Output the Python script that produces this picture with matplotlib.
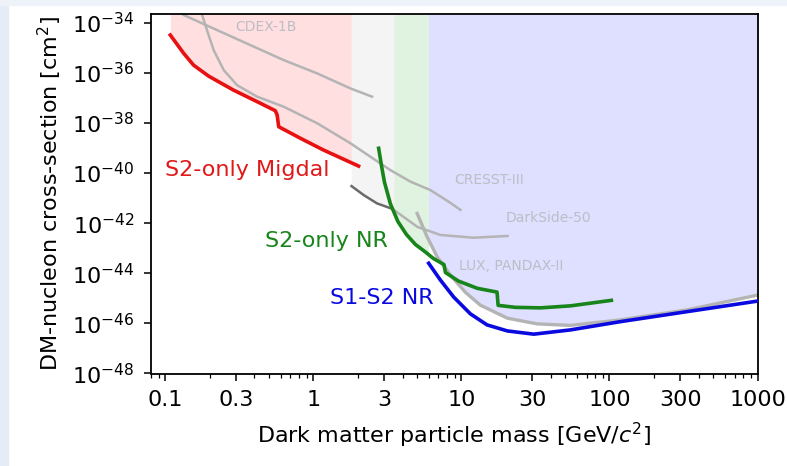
import numpy as np
import matplotlib
matplotlib.use("Agg")
import matplotlib.pyplot as plt
from matplotlib.patches import Rectangle

# ---------------- data: mass in GeV, cross-section as log10(cm^2) ----------------
migdal_x = [0.108, 0.133, 0.155, 0.196, 0.289, 0.417, 0.553, 0.569, 0.583, 0.817, 1.17, 2.02]
migdal_y = [-34.49, -35.22, -35.69, -36.13, -36.69, -37.15, -37.51, -37.68, -38.15, -38.61, -39.08, -39.72]

s2nr_x = [2.76, 2.88, 3.02, 3.31, 3.72, 4.25, 4.89, 5.71, 6.47, 7.62, 7.80, 9.55, 12.8, 17.4, 17.7, 23.2, 34.2,
          54.5, 103]
s2nr_y = [-39.01, -39.68, -40.36, -41.22, -41.93, -42.45, -42.85, -43.15, -43.41, -43.65, -43.97, -44.31, -44.60,
          -44.75, -45.28, -45.36, -45.38, -45.30, -45.08]

s1s2_x = [6.01, 7.21, 8.87, 11.5, 14.9, 20.4, 30.8, 54.5, 118.6, 335, 1000]
s1s2_y = [-43.60, -44.27, -44.95, -45.62, -46.06, -46.30, -46.43, -46.26, -45.93, -45.53, -45.11]

cdex_x = [0.12, 0.133, 0.223, 0.375, 0.630, 1.06, 1.78, 2.49]
cdex_y = [-33.45, -33.69, -34.29, -34.89, -35.49, -36.02, -36.62, -36.95]

cresst_x = [0.172, 0.191, 0.212, 0.248, 0.305, 0.417, 0.630, 1.06, 1.78, 2.43, 3.31, 4.52, 6.18, 8.43, 9.85]
cresst_y = [-33.45, -34.29, -35.09, -35.89, -36.49, -36.95, -37.35, -38.01, -38.81, -39.35, -39.88, -40.34,
            -40.68, -41.19, -41.47]

darkside_x = [1.81, 2.19, 2.69, 3.42, 5.05, 7.21, 12.05, 20.5]
darkside_y = [-40.52, -40.88, -41.21, -41.43, -42.15, -42.47, -42.58, -42.51]

lux_x = [5.02, 5.86, 6.85, 8.43, 10.6, 13.4, 20.4, 32.5, 54.5, 118.6, 335, 1000]
lux_y = [-41.61, -42.54, -43.34, -44.07, -44.75, -45.27, -45.79, -46.02, -46.08, -45.86, -45.46, -44.87]

# band limits (GeV)
pink_band = (0.108, 1.8)
gray_band = (1.8, 3.5)
green_band = (3.5, 6.0)
blue_band = (6.0, 1000)

xtick_vals = [0.1, 0.3, 1, 3, 10, 30, 100, 300, 1000]
xtick_labels = ["0.1", "0.3", "1", "3", "10", "30", "100", "300", "1000"]
ytick_exps = [-34, -36, -38, -40, -42, -44, -46, -48]

# ---------------- figure ----------------
W, H = 787, 466
fig = plt.figure(figsize=(W / 100, H / 100), dpi=100, facecolor="white")
# screenshot frame (light blue strips)
fig.patches.append(Rectangle((0, 0), 8 / W, 1, transform=fig.transFigure, color="#e4ecf6", zorder=0))
fig.patches.append(Rectangle((0, 1 - 5 / H), 1, 5 / H, transform=fig.transFigure, color="#eef3f9", zorder=0))

ax = fig.add_axes([151 / W, 1 - 373.5 / H, (757.5 - 151) / W, (373.5 - 14) / H])
ax.set_xscale("log")
ax.set_yscale("log")
YTOP = 10 ** -33.65
ax.set_xlim(0.08, 1000)
ax.set_ylim(1e-48, YTOP)


def p(a):
    return 10 ** np.asarray(a, dtype=float)


def band(xr, cx, cy, color, alpha):
    xs = np.logspace(np.log10(xr[0]), np.log10(xr[1]), 300)
    ys = np.interp(np.log10(xs), np.log10(cx), cy)
    ax.fill_between(xs, 10 ** ys, YTOP, color=color, alpha=alpha, lw=0, zorder=1)


band(pink_band, migdal_x, migdal_y, "#ff4444", 0.17)
band(gray_band, darkside_x, darkside_y, "#999999", 0.10)
band(green_band, s2nr_x, s2nr_y, "#33aa33", 0.15)
band(blue_band, lux_x, lux_y, "#4444ff", 0.17)

gcol = "#b4b4b4"
ax.plot(cdex_x, p(cdex_y), color=gcol, lw=1.8, zorder=2)
ax.plot(cresst_x, p(cresst_y), color=gcol, lw=1.8, zorder=2)
ax.plot(darkside_x[3:], p(darkside_y[3:]), color=gcol, lw=1.8, zorder=2)
ax.plot(darkside_x[:4], p(darkside_y[:4]), color="#6a6a6a", lw=1.8, zorder=2)
ax.plot(lux_x, p(lux_y), color=gcol, lw=2.4, zorder=2)

ax.plot(migdal_x, p(migdal_y), color="#e81010", lw=2.6, zorder=4)
ax.plot(s2nr_x, p(s2nr_y), color="#17851a", lw=2.6, zorder=4)
ax.plot(s1s2_x, p(s1s2_y), color="#0a0ae0", lw=2.6, zorder=4)

lab = dict(color="#bdbdc6", fontsize=10, ha="center", va="center", zorder=3)
ax.text(0.481, 10 ** -34.17, "CDEX-1B", **lab)
ax.text(15.3, 10 ** -40.28, "CRESST-III", **lab)
ax.text(38.7, 10 ** -41.79, "DarkSide-50", **lab)
ax.text(21.8, 10 ** -43.71, "LUX, PANDAX-II", **lab)

ax.text(0.356, 10 ** -39.88, "S2-only Migdal", color="#e01818", fontsize=16, ha="center", va="center", zorder=5,
        bbox=dict(facecolor="white", edgecolor="none", pad=1))
ax.text(1.23, 10 ** -42.71, "S2-only NR", color="#17851a", fontsize=16, ha="center", va="center", zorder=5)
ax.text(2.92, 10 ** -44.99, "S1-S2 NR", color="#0a0ae0", fontsize=16, ha="center", va="center", zorder=5)

ax.set_xticks(xtick_vals)
ax.set_xticklabels(xtick_labels)
ax.xaxis.set_minor_locator(matplotlib.ticker.LogLocator(base=10, subs=(2, 4, 5, 6, 7, 8, 9), numticks=20))
ax.xaxis.set_minor_formatter(matplotlib.ticker.NullFormatter())
ax.set_yticks([10.0 ** e for e in ytick_exps])
ax.yaxis.set_major_formatter(matplotlib.ticker.LogFormatterMathtext())
ax.yaxis.set_minor_locator(matplotlib.ticker.NullLocator())
ax.tick_params(axis="both", which="major", labelsize=16, length=5, width=1.1, pad=7)
ax.tick_params(axis="x", which="minor", length=3, width=0.9)
for s in ax.spines.values():
    s.set_linewidth(1.3)

ax.set_xlabel("Dark matter particle mass [GeV/$c^2$]", fontsize=16, labelpad=8)
ax.set_ylabel("DM-nucleon cross-section [cm$^2$]", fontsize=16, labelpad=6)

fig.savefig("out.png", dpi=100, facecolor=fig.get_facecolor())
